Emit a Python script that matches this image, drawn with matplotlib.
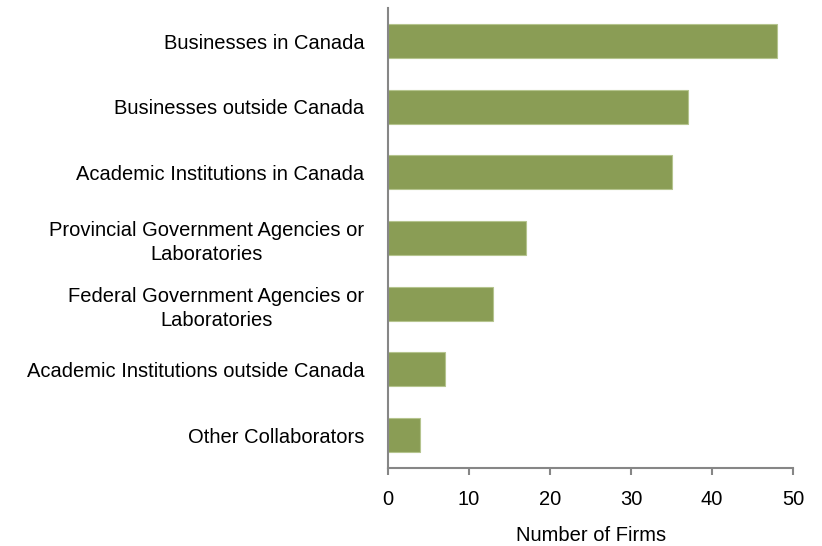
import matplotlib.pyplot as plt

plt.rcParams['font.family'] = ['Liberation Sans', 'DejaVu Sans']

# 合作對象與家數
categories = [
    'Businesses in Canada',
    'Businesses outside Canada',
    'Academic Institutions in Canada',
    'Provincial Government Agencies or\nLaboratories',
    'Federal Government Agencies or\nLaboratories',
    'Academic Institutions outside Canada',
    'Other Collaborators',
]
firms = [48, 37, 35, 17, 13, 7, 4]
x_ticks = [0, 10, 20, 30, 40, 50]

fig = plt.figure(figsize=(8.22, 5.46), dpi=100)
ax = fig.add_axes([0.472, 0.143, 0.493, 0.842])

y_pos = list(range(len(categories)))
ax.barh(y_pos, firms, height=0.52, color='#8a9d55', edgecolor='#b5c48e', linewidth=0.8)

ax.set_ylim(len(categories) - 0.5, -0.5)
ax.set_xlim(0, 50)
ax.set_yticks(y_pos)
ax.set_yticklabels(categories, fontsize=14.5, ha='right', multialignment='center', linespacing=1.35)
ax.tick_params(axis='y', length=0, pad=17)
ax.set_xticks(x_ticks)
ax.tick_params(axis='x', direction='out', length=5, width=1.5, color='#868686', labelsize=14.5, pad=11)
ax.set_xlabel('Number of Firms', fontsize=14.5, labelpad=12)

for side in ['top', 'right']:
    ax.spines[side].set_visible(False)
for side in ['left', 'bottom']:
    ax.spines[side].set_color('#868686')
    ax.spines[side].set_linewidth(1.5)

plt.savefig('out.png', dpi=100)
